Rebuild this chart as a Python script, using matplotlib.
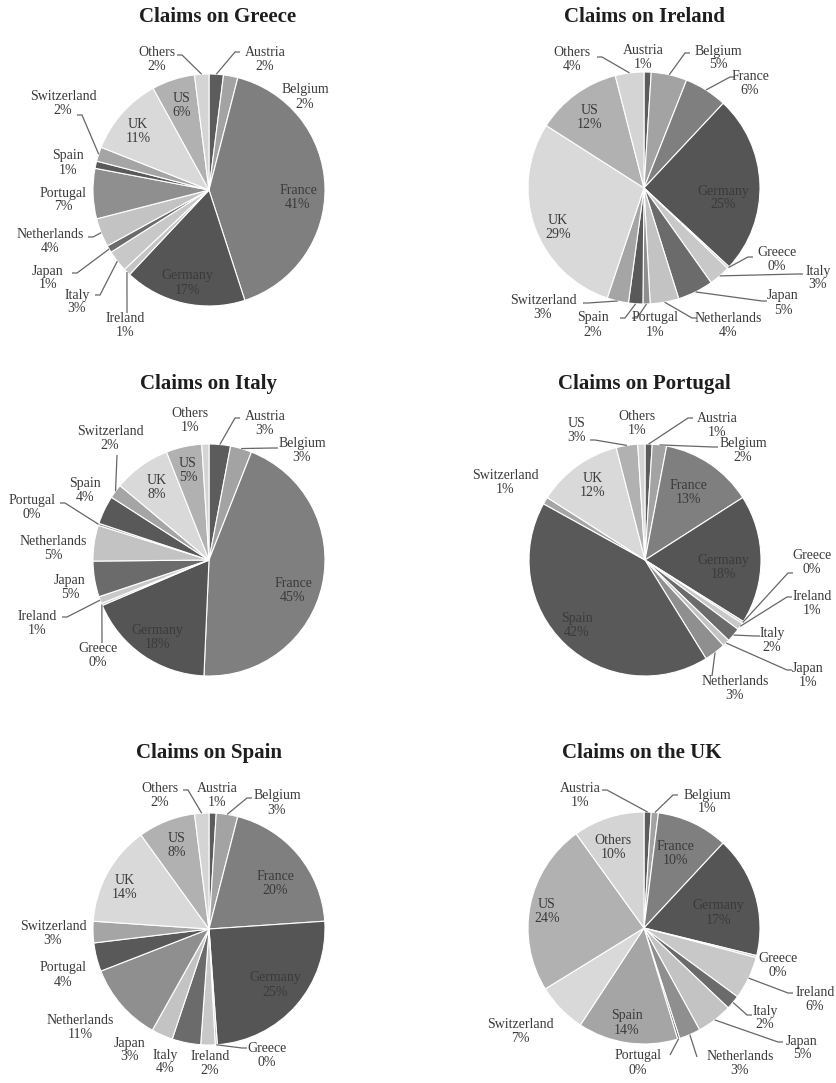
import matplotlib
matplotlib.use("Agg")
import matplotlib.pyplot as plt
import numpy as np

# ---------------- DATA ----------------
greece_names = ["Austria", "Belgium", "France", "Germany", "Ireland", "Italy", "Japan",
                "Netherlands", "Portugal", "Spain", "Switzerland", "UK", "US", "Others"]
greece_values = [2, 2, 41, 17, 1, 3, 1, 4, 7, 1, 2, 11, 6, 2]

ireland_names = ["Austria", "Belgium", "France", "Germany", "Greece", "Italy", "Japan",
                 "Netherlands", "Portugal", "Spain", "Switzerland", "UK", "US", "Others"]
ireland_values = [1, 5, 6, 25, 0.3, 3, 5, 4, 1, 2, 3, 29, 12, 4]

italy_names = ["Austria", "Belgium", "France", "Germany", "Greece", "Ireland", "Japan",
               "Netherlands", "Portugal", "Spain", "Switzerland", "UK", "US", "Others"]
italy_values = [3, 3, 45, 18, 0.3, 1, 5, 5, 0.3, 4, 2, 8, 5, 1]

portugal_names = ["Austria", "Belgium", "France", "Germany", "Greece", "Ireland", "Italy",
                  "Japan", "Netherlands", "Spain", "Switzerland", "UK", "US", "Others"]
portugal_values = [1, 2, 13, 18, 0.3, 1, 2, 1, 3, 42, 1, 12, 3, 1]

spain_names = ["Austria", "Belgium", "France", "Germany", "Greece", "Ireland", "Italy",
               "Japan", "Netherlands", "Portugal", "Switzerland", "UK", "US", "Others"]
spain_values = [1, 3, 20, 25, 0.3, 2, 4, 3, 11, 4, 3, 14, 8, 2]

uk_names = ["Austria", "Belgium", "France", "Germany", "Greece", "Ireland", "Italy",
            "Japan", "Netherlands", "Portugal", "Spain", "Switzerland", "US", "Others"]
uk_values = [1, 1, 10, 17, 0.3, 6, 2, 5, 3, 0.3, 14, 7, 24, 10]

titles = ["Claims on Greece", "Claims on Ireland", "Claims on Italy",
          "Claims on Portugal", "Claims on Spain", "Claims on the UK"]

# ---------------- STYLE ----------------
palette = ["#5c5c5c", "#a3a3a3", "#7f7f7f", "#555555", "#c4c4c4", "#c8c8c8", "#6b6b6b",
           "#c3c3c3", "#8f8f8f", "#595959", "#a5a5a5", "#d9d9d9", "#b1b1b1", "#d4d4d4"]
TXT = "#3a3a3a"
LEAD = "#666666"
FONT = "Liberation Serif"

W, H = 837, 1083

# layout: pie centre/radius (px), title pos, label positions (px) and leader start (px)
layouts = [
    dict(c=(209, 190), r=116, t=(218, 17), labels={
        "Austria": (265, 60, (240, 52)), "Belgium": (305, 97, None),
        "France": (298, 198, None), "Germany": (187, 283, None),
        "Ireland": (125, 325, (127, 313)), "Italy": (77, 302, (95, 295)),
        "Japan": (48, 278, (72, 273)), "Netherlands": (50, 242, (88, 237)),
        "Portugal": (63, 200, None), "Spain": (68, 163, None),
        "Switzerland": (63, 103, (77, 115)), "UK": (138, 132, None),
        "US": (182, 105, None), "Others": (157, 60, (177, 55))}),
    dict(c=(644, 188), r=116, t=(644, 17), labels={
        "Austria": (643, 57, None), "Belgium": (718, 58, (690, 53)),
        "France": (750, 83, (735, 77)), "Germany": (723, 198, None),
        "Greece": (777, 260, (753, 257)), "Italy": (818, 278, (803, 274)),
        "Japan": (783, 303, (767, 301)), "Netherlands": (728, 325, (697, 318)),
        "Portugal": (655, 325, (632, 318)), "Spain": (593, 325, (620, 318)),
        "Switzerland": (543, 307, (583, 303)), "UK": (558, 227, None),
        "US": (590, 117, None), "Others": (572, 60, (597, 57))}),
    dict(c=(209, 560), r=116, t=(209, 384), labels={
        "Austria": (265, 423, (240, 418)), "Belgium": (302, 450, (278, 448)),
        "France": (293, 590, None), "Germany": (157, 637, None),
        "Greece": (98, 655, (102, 643)), "Ireland": (37, 623, (62, 617)),
        "Japan": (70, 587, None), "Netherlands": (53, 548, None),
        "Portugal": (32, 507, (60, 503)), "Spain": (85, 490, None),
        "Switzerland": (110, 438, (117, 455)), "UK": (157, 487, None),
        "US": (188, 470, None), "Others": (190, 420, None)}),
    dict(c=(645, 560), r=116, t=(644, 384), labels={
        "Austria": (717, 425, (693, 418)), "Belgium": (743, 450, (718, 447)),
        "France": (688, 492, None), "Germany": (723, 567, None),
        "Greece": (812, 562, (793, 573)), "Ireland": (812, 603, (792, 597)),
        "Italy": (772, 640, (760, 636)), "Japan": (808, 675, (792, 670)),
        "Netherlands": (735, 688, (712, 676)), "Spain": (577, 625, None),
        "Switzerland": (505, 482, None), "UK": (593, 485, None),
        "US": (577, 430, (590, 440)), "Others": (637, 423, None)}),
    dict(c=(209, 929), r=116, t=(209, 753), labels={
        "Austria": (217, 795, None), "Belgium": (277, 803, (252, 798)),
        "France": (275, 883, None), "Germany": (275, 985, None),
        "Greece": (267, 1055, (247, 1048)), "Ireland": (210, 1063, None),
        "Italy": (165, 1062, None), "Japan": (130, 1050, None),
        "Netherlands": (80, 1027, None), "Portugal": (63, 975, None),
        "Switzerland": (53, 933, None), "UK": (125, 887, None),
        "US": (177, 845, None), "Others": (160, 795, (183, 790))}),
    dict(c=(644, 928), r=116, t=(642, 753), labels={
        "Austria": (580, 795, (602, 790)), "Belgium": (707, 802, (678, 795)),
        "France": (675, 853, None), "Germany": (718, 913, None),
        "Greece": (778, 965, None), "Ireland": (815, 1000, (793, 993)),
        "Italy": (765, 1018, (752, 1015)), "Japan": (802, 1048, (783, 1042)),
        "Netherlands": (740, 1063, (697, 1057)), "Portugal": (638, 1063, (670, 1055)),
        "Spain": (627, 1023, None), "Switzerland": (520, 1032, None),
        "US": (547, 912, None), "Others": (613, 847, None)}),
]

pies = [(greece_names, greece_values), (ireland_names, ireland_values),
        (italy_names, italy_values), (portugal_names, portugal_values),
        (spain_names, spain_values), (uk_names, uk_values)]

fig = plt.figure(figsize=(W / 100, H / 100), dpi=100)
fig.patch.set_facecolor("white")

for (names, values), lay, title in zip(pies, layouts, titles):
    cx, cy = lay["c"]
    r = lay["r"]
    ax = fig.add_axes([(cx - r) / W, 1 - (cy + r) / H, 2 * r / W, 2 * r / H])
    ax.axis("off")
    ax.pie(values, colors=palette[:len(values)], startangle=90, counterclock=False,
           radius=1.0, wedgeprops=dict(edgecolor="white", linewidth=0.8))
    ax.set_xlim(-1, 1)
    ax.set_ylim(-1, 1)
    ax.set_aspect("auto")

    def to_data(px, py):
        return (px - cx) / r, -(py - cy) / r

    total = float(sum(values))
    cum = 0.0
    for name, v in zip(names, values):
        mid = (cum + v / 2.0) / total * 2 * np.pi
        cum += v
        tx, ty, lead = lay["labels"][name]
        dx, dy = to_data(tx, ty)
        ax.text(dx, dy, f"{name}\n{int(round(v))}%", ha="center", va="center",
                fontsize=10, family=FONT, color=TXT, linespacing=1.1, clip_on=False)
        if lead is not None:
            sx, sy = to_data(*lead)
            ex, ey = np.sin(mid), np.cos(mid)
            # short horizontal stub from the text, then straight to the slice edge
            step = 5.0 / r
            hx = sx + (step if ex > sx else -step)
            if abs(ex - sx) < 2 * step:
                hx = sx
            ax.plot([sx, hx, ex], [sy, sy, ey], color=LEAD, lw=0.9, clip_on=False,
                    solid_capstyle="butt", solid_joinstyle="miter")

    fig.text(lay["t"][0] / W, 1 - lay["t"][1] / H, title, ha="center", va="center",
             fontsize=15, fontweight="bold", family=FONT, color="#1e1e1e")

fig.savefig("out.png", dpi=100, facecolor="white")
